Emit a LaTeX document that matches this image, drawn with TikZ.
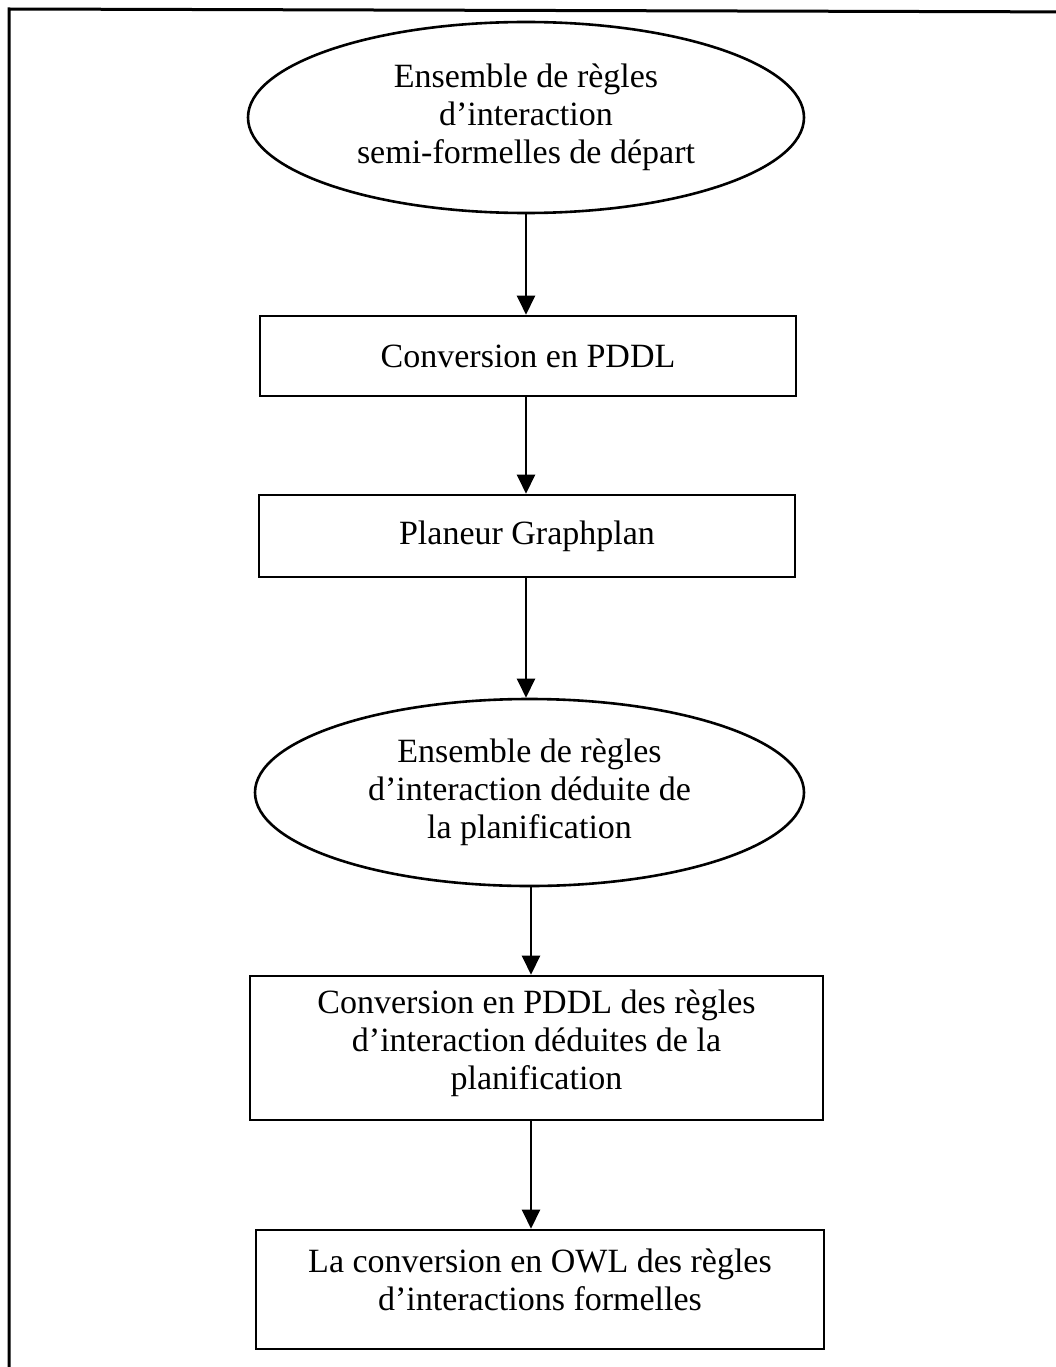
\documentclass[tikz,border=0pt]{standalone}
\usepackage{fontspec}
\setmainfont{Liberation Serif}
\usetikzlibrary{shapes.geometric,arrows.meta}
\begin{document}
\begin{tikzpicture}[x=1pt,y=-1pt,
  every node/.style={font=\fontsize{34}{38}\selectfont, align=center, inner sep=0pt, line width=2.6pt},
  oval/.style={draw, ellipse},
  stepbox/.style={draw, rectangle},
  flow/.style={line width=2.4pt, -{Triangle[width=18pt,length=19pt]}}]
  \useasboundingbox (0,0) rectangle (1056,1367);
  % outer frame (only top and left edges lie inside the page)
  \draw[line width=3pt] (9,1400) -- (9,9) -- (1100,12);

  \node[oval, minimum width=556pt, minimum height=191pt] (e1) at (526,117.5)
    {Ensemble de règles\\d’interaction\\semi-formelles de départ};
  \node[stepbox, minimum width=536pt, minimum height=80pt] (b1) at (528,356)
    {Conversion en PDDL};
  \node[stepbox, minimum width=536pt, minimum height=82pt] (b2) at (527,536)
    {Planeur Graphplan};
  \node[oval, minimum width=549pt, minimum height=187pt] (e2) at (529.5,792.5)
    {Ensemble de règles\\d’interaction déduite de\\la planification};
  \node[stepbox, minimum width=573pt, minimum height=144pt] (b3) at (536.5,1048)
    {};
  \node (t3) at (536.5,1043)
    {Conversion en PDDL des règles\\d’interaction déduites de la\\planification};
  \node[stepbox, minimum width=568pt, minimum height=119pt] (b4) at (540,1289.5)
    {};
  \node (t4) at (540,1280)
    {La conversion en OWL des règles\\d’interactions formelles};

  \draw[flow] (e1.south -| 526,0) -- (b1.north -| 526,0);
  \draw[flow] (b1.south -| 526,0) -- (b2.north -| 526,0);
  \draw[flow] (b2.south -| 526,0) -- (e2.north -| 526,0);
  \draw[flow] (e2.south -| 531,0) -- (b3.north -| 531,0);
  \draw[flow] (b3.south -| 531,0) -- (b4.north -| 531,0);
\end{tikzpicture}
\end{document}
